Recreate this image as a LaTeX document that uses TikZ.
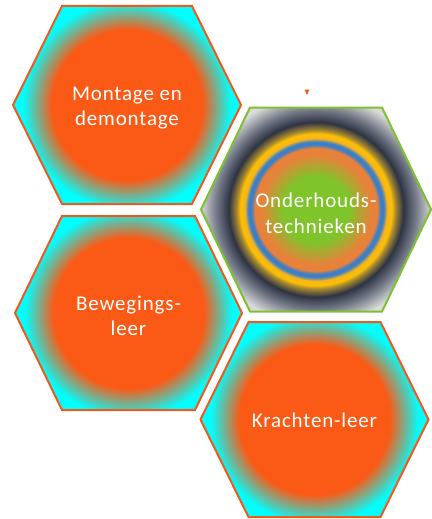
\documentclass[tikz,border=0pt]{standalone}
\usepackage{fontspec}
\setmainfont{Carlito}
\newfontfamily\hexfont[LetterSpace=4]{Carlito}

\definecolor{hexorange}{HTML}{FA5A16}
\definecolor{hexcyan}{HTML}{00FFFF}
\definecolor{edgeorange}{HTML}{F2581C}
\definecolor{edgegreen}{HTML}{7CC12E}
\definecolor{rgreen}{HTML}{7FC42B}
\definecolor{rorange}{HTML}{E8823A}
\definecolor{rblue}{HTML}{3B7FC8}
\definecolor{ryellow}{HTML}{F5B41E}
\definecolor{rgold}{HTML}{FFC000}
\definecolor{rdarkgold}{HTML}{A88A30}
\definecolor{rnavy}{HTML}{2E3444}
\definecolor{rslate}{HTML}{707684}
\definecolor{rlight}{HTML}{DADADA}

% orange core fading to cyan towards the rim (radii at natural size)
\pgfdeclareradialshading{orangeglow}{\pgfpointorigin}{%
  color(0bp)=(hexorange); color(75bp)=(hexorange);
  color(104bp)=(hexcyan); color(125bp)=(hexcyan)}

% green core with orange, blue, gold and dark rings
\pgfdeclareradialshading{ringglow}{\pgfpointorigin}{%
  color(0bp)=(rgreen); color(33bp)=(rgreen);
  color(55bp)=(rorange); color(61bp)=(rorange);
  color(64.5bp)=(rblue); color(67.5bp)=(rblue);
  color(71bp)=(ryellow); color(75.5bp)=(rgold);
  color(79bp)=(rdarkgold); color(87bp)=(rnavy);
  color(99bp)=(rslate); color(115bp)=(rlight); color(125bp)=(rlight)}

% hexagon with pointed left/right corners: half width, half top edge, half height
\newcommand\hexshape[3]{(-#1,0) -- (-#2,-#3) -- (#2,-#3) -- (#1,0) -- (#2,#3) -- (-#2,#3) -- cycle}

\tikzset{
  hexlabel/.style={text=white, align=center, inner sep=0pt,
    font=\hexfont\fontsize{21}{25.5}\selectfont},
  glow/.style={inner sep=0pt, outer sep=0pt},
  orangeedge/.style={draw=edgeorange, line width=2pt, line join=miter},
  greenedge/.style={draw=edgegreen, line width=2pt, line join=miter},
}

\begin{document}
\begin{tikzpicture}[x=1pt,y=-1pt]
\useasboundingbox (0,0) rectangle (431,519);

% Montage en demontage
\begin{scope}[shift={(127,105)}]
  \begin{scope}
    \clip \hexshape{114}{65}{99};
    \node[glow] (montageglow) at (0,0) {\pgfuseshading{orangeglow}};
  \end{scope}
  \draw[orangeedge] \hexshape{114}{65}{99};
  \node[hexlabel] (montage) at (0,3) {Montage en\\demontage};
\end{scope}

% Onderhoudstechnieken
\begin{scope}[shift={(316,209.5)}]
  \begin{scope}
    \clip \hexshape{115}{66}{102};
    \node[glow] (onderhoudglow) at (0,0) {\pgfuseshading{ringglow}};
  \end{scope}
  \draw[greenedge] \hexshape{115}{66}{102};
  \node[hexlabel] (onderhoud) at (0,4) {Onderhouds-\\technieken};
\end{scope}

% Bewegingsleer
\begin{scope}[shift={(128.5,313)}]
  \begin{scope}
    \clip \hexshape{113.5}{66.5}{97};
    \node[glow] (bewegingglow) at (0,0) {\pgfuseshading{orangeglow}};
  \end{scope}
  \draw[orangeedge] \hexshape{113.5}{66.5}{97};
  \node[hexlabel] (beweging) at (0,3) {Bewegings-\\leer};
\end{scope}

% Krachtenleer
\begin{scope}[shift={(314.5,419.5)}]
  \begin{scope}
    \clip \hexshape{114}{66}{97.5};
    \node[glow] (krachtglow) at (0,0) {\pgfuseshading{orangeglow}};
  \end{scope}
  \draw[orangeedge] \hexshape{114}{66}{97.5};
  \node[hexlabel] (kracht) at (0,1) {Krachten-leer};
\end{scope}

% small marker above the green hexagon
\fill[edgeorange] (304.5,89.5) -- (309.5,89.5) -- (307,95) -- cycle;
\end{tikzpicture}
\end{document}
